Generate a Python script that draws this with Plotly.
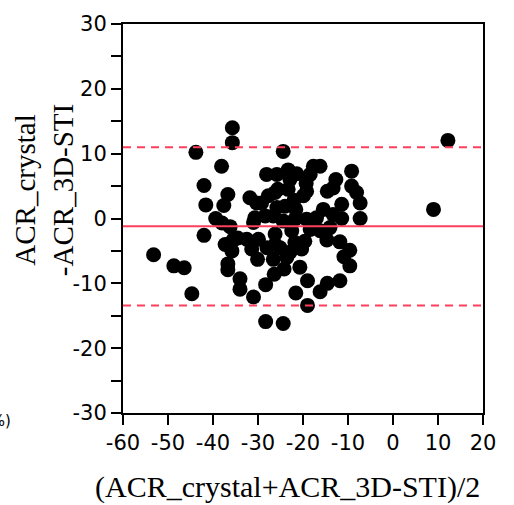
import plotly.graph_objects as go

# Bland-Altman data: mean of methods (x) and difference (y)
mean_vals = [
    -35.7, -35.7, -43.8, -24.4, 12.2, 9.0, -38.1, -42.0, -41.6, -36.7,
    -37.6, -39.4, -36.2, -38.0, -42.0, -53.2, -48.7, -46.4, -44.7, -37.3,
    -35.5, -35.8, -36.7, -36.7, -34.0, -34.0, -31.0, -28.3, -24.4, -28.3,
    -26.4, -24.2, -21.6, -19.0, -19.0, -20.7, -16.2, -14.6, -11.8, -9.6,
    -10.9, -9.6, -11.8, -14.7, -7.3, -7.3, -8.1, -9.2, -9.2, -12.7,
    -13.3, -14.6, -11.4, -11.4, -13.3, -14.0, -16.2, -17.7, -18.4, -19.2,
    -19.3, -21.6, -19.2, -17.0, -15.5, -16.2, -19.6, -20.3, -22.5, -24.4,
    -23.3, -21.4, -23.3, -25.8, -28.1, -26.2, -27.7, -31.8, -30.3, -30.7,
    -31.0, -26.6, -25.8, -26.2, -26.2, -25.1, -22.9, -23.6, -26.6, -29.9,
    -32.5, -31.4, -30.1, -29.2, -25.6, -24.0, -28.4, -21.8, -22.9, -19.9,
    -21.8, -18.4, -34.5, -28.0, -22.0,
]
diff_vals = [
    14.0, 11.7, 10.2, 10.35, 12.05, 1.4, 8.05, 5.1, 2.1, 3.7,
    2.0, 0.0, -1.26, -0.7, -2.6, -5.6, -7.3, -7.6, -11.6, -4.0,
    -3.3, -5.0, -7.0, -7.9, -9.3, -10.9, -12.1, -15.9, -16.2, -10.2,
    -8.6, -7.8, -11.5, -13.4, -9.6, -7.5, -11.3, -10.0, -9.6, -7.3,
    -5.9, -4.9, -3.6, -3.3, 0.0, 2.4, 4.0, 5.0, 7.3, 6.0,
    4.7, 4.2, 2.2, 0.0, 0.6, -1.4, 8.05, 8.05, 6.8, 4.2,
    5.4, 1.4, -0.1, 0.1, 1.4, -1.9, -3.5, -4.7, -1.9, -0.4,
    4.5, 6.9, 7.5, 6.8, 6.8, 4.0, 3.5, 3.2, 2.4, 0.1,
    -0.6, 0.4, 1.7, -2.4, -4.0, -4.5, -5.2, -6.0, -6.3, -3.2,
    -3.2, -4.7, -6.3, 2.4, 4.5, 1.9, 0.4, -0.1, 6.0, 3.5,
    -3.7, -1.7, -3.0, -4.5, 2.8,
]

bias = -1.2
upper_loa = 11.0
lower_loa = -13.4
x_range = [-60, 20]
y_range = [-30, 30]
x_ticks = [-60, -50, -40, -30, -20, -10, 0, 10, 20]
x_ticklabels = ["-60", "-50", "-40", "-30", "-20", "-10", "0", "10", "20"]
y_ticks = [-30, -20, -10, 0, 10, 20, 30]
y_ticklabels = ["-30", "-20", "-10", "0", "10", "20", "30"]

red = "#ff3f5c"

fig = go.Figure()
fig.add_trace(go.Scatter(
    x=mean_vals, y=diff_vals, mode="markers",
    marker=dict(color="black", size=15, line=dict(width=0)),
    hoverinfo="skip", showlegend=False,
))
fig.add_trace(go.Scatter(
    x=x_range, y=[bias, bias], mode="lines",
    line=dict(color=red, width=2), showlegend=False, hoverinfo="skip",
))
for v in (upper_loa, lower_loa):
    fig.add_trace(go.Scatter(
        x=x_range, y=[v, v], mode="lines",
        line=dict(color=red, width=2, dash="8px,6px"),
        showlegend=False, hoverinfo="skip",
    ))

tickfont = dict(family="DejaVu Sans", size=21, color="black")
fig.update_xaxes(
    range=x_range, tickvals=x_ticks, ticktext=x_ticklabels,
    ticks="outside", ticklen=10, tickwidth=2,
    tickcolor="black", showline=True, linecolor="black", linewidth=2,
    mirror=True, showgrid=False, zeroline=False, tickfont=tickfont,
    tickangle=0,
)
fig.update_yaxes(
    range=y_range, tickvals=y_ticks, ticktext=y_ticklabels,
    ticks="outside", ticklen=10, tickwidth=2,
    tickcolor="black", showline=True, linecolor="black", linewidth=2,
    mirror=True, showgrid=False, zeroline=False, tickfont=tickfont,
    minor=dict(dtick=5, ticks="outside", ticklen=10, tickwidth=2, tickcolor="black"),
)

titlefont = dict(family="Liberation Serif", size=29, color="black")
fig.update_layout(
    width=514, height=505,
    margin=dict(l=123, r=31, t=22, b=92),
    paper_bgcolor="white", plot_bgcolor="white",
    annotations=[
        dict(text="(ACR_crystal+ACR_3D-STI)/2", xref="paper", yref="paper",
             x=(287 - 123) / 360, y=-(487 - 413) / 391, xanchor="center",
             yanchor="middle", showarrow=False,
             font=dict(family="Liberation Serif", size=30, color="black")),
        dict(text="ACR_crystal<br>-ACR_3D-STI", xref="paper", yref="paper",
             x=(44 - 123) / 360, y=(413 - 189) / 391, xanchor="center",
             yanchor="middle", showarrow=False, font=titlefont, textangle=-90),
        dict(text="(%)", xref="paper", yref="paper",
             x=(13 - 123) / 360, y=(413 - 421) / 391, xanchor="right",
             yanchor="middle", showarrow=False,
             font=dict(family="DejaVu Sans", size=15, color="black")),
    ],
)

fig.write_html("out.html")
